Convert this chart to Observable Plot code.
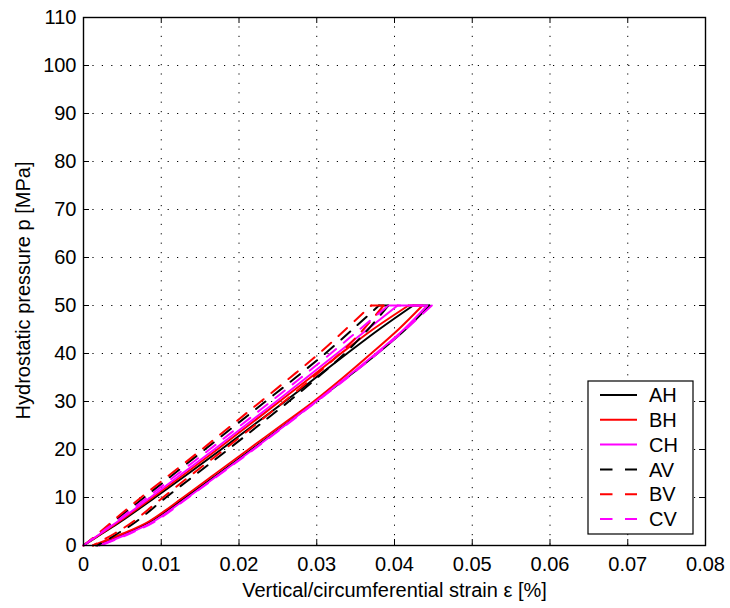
<!DOCTYPE html>
<html>
<head>
<meta charset="utf-8">
<script src="https://cdn.jsdelivr.net/npm/d3@7"></script>
<script src="https://cdn.jsdelivr.net/npm/@observablehq/plot@0.6"></script>
<style>
  body { margin: 0; background: #fff; }
  svg { display: block; }
</style>
</head>
<body>
<div id="chart"></div>
<script>
// ---- data (strain in %, at each pressure level in MPa) ----
const pressure = [0, 2.5, 5, 10, 15, 20, 25, 30, 35, 40, 45, 50];

const seriesNames = ["AH", "BH", "CH", "AV", "BV", "CV"];
const seriesColors = ["#000000", "#ff0000", "#ff00ff", "#000000", "#ff0000", "#ff00ff"];
const seriesDashed = [false, false, false, true, true, true];

// loading branch (pressure ascending)
const AH_load   = [0, 0.0024, 0.0048, 0.0092, 0.0135, 0.0177, 0.0218, 0.0259, 0.0299, 0.0339, 0.0380, 0.0424];
const BH_load   = [0, 0.0023, 0.0046, 0.0089, 0.0131, 0.0172, 0.0212, 0.0252, 0.0292, 0.0331, 0.0372, 0.0418];
const CH_load   = [0, 0.0022, 0.0044, 0.0086, 0.0127, 0.0168, 0.0208, 0.0248, 0.0287, 0.0326, 0.0365, 0.0404];
const AV_load   = [0, 0.0020, 0.0039, 0.0078, 0.0117, 0.0156, 0.0195, 0.0234, 0.0273, 0.0311, 0.0346, 0.0380];
const BV_load   = [0, 0.0019, 0.0037, 0.0074, 0.0113, 0.0152, 0.0190, 0.0228, 0.0266, 0.0303, 0.0337, 0.0370];
const CV_load   = [0, 0.0021, 0.0042, 0.0082, 0.0122, 0.0162, 0.0202, 0.0241, 0.0280, 0.0318, 0.0355, 0.0392];

// unloading branch (listed with pressure ascending)
const AH_unload = [0.0016, 0.0054, 0.0086, 0.0131, 0.0174, 0.0216, 0.0258, 0.0299, 0.0339, 0.0378, 0.0414, 0.0445];
const BH_unload = [0.0012, 0.0051, 0.0084, 0.0128, 0.0170, 0.0212, 0.0254, 0.0296, 0.0334, 0.0370, 0.0405, 0.0436];
const CH_unload = [0.0020, 0.0058, 0.0090, 0.0134, 0.0176, 0.0218, 0.0259, 0.0299, 0.0338, 0.0376, 0.0412, 0.0442];
const AV_unload = [0.0018, 0.0044, 0.0068, 0.0106, 0.0146, 0.0186, 0.0225, 0.0264, 0.0301, 0.0336, 0.0366, 0.0392];
const BV_unload = [0.0012, 0.0040, 0.0064, 0.0102, 0.0141, 0.0181, 0.0220, 0.0258, 0.0295, 0.0330, 0.0360, 0.0386];
const CV_unload = [0.0022, 0.0060, 0.0092, 0.0135, 0.0177, 0.0219, 0.0260, 0.0300, 0.0340, 0.0378, 0.0414, 0.0448];

const xTicks = [0, 0.01, 0.02, 0.03, 0.04, 0.05, 0.06, 0.07, 0.08];
const xTickLabels = ["0", "0.01", "0.02", "0.03", "0.04", "0.05", "0.06", "0.07", "0.08"];
const yTicks = [0, 10, 20, 30, 40, 50, 60, 70, 80, 90, 100, 110];
const yTickLabels = ["0", "10", "20", "30", "40", "50", "60", "70", "80", "90", "100", "110"];

const xLabel = "Vertical/circumferential strain \u03b5 [%]";
const yLabel = "Hydrostatic pressure p [MPa]";

// ---- build branch tables ----
const loads = {AH: AH_load, BH: BH_load, CH: CH_load, AV: AV_load, BV: BV_load, CV: CV_load};
const unloads = {AH: AH_unload, BH: BH_unload, CH: CH_unload, AV: AV_unload, BV: BV_unload, CV: CV_unload};

const branchRows = (arr) => pressure.map((p, i) => ({p, e: arr[i]}));
const holdRows = (name) => {
  const n = pressure.length - 1;
  return [{p: pressure[n], e: loads[name][n]}, {p: pressure[n], e: unloads[name][n]}];
};

// ---- layout ----
const W = 730, H = 608;
const mL = 83, mR = 25, mT = 17, mB = 63;
const frameW = W - mL - mR, frameH = H - mT - mB;
const tickLen = 6;
const font = "'Liberation Sans', Arial, Helvetica, sans-serif";

const lineMarks = seriesNames.flatMap((name, i) => {
  const opts = {
    x: "e", y: "p",
    stroke: seriesColors[i],
    strokeWidth: 2,
    strokeDasharray: seriesDashed[i] ? "12,10" : null,
    strokeLinejoin: "round"
  };
  return [
    Plot.line(branchRows(loads[name]), {...opts, curve: "catmull-rom"}),
    Plot.line(holdRows(name), {...opts, curve: "linear"}),
    Plot.line(branchRows(unloads[name]).reverse(), {...opts, curve: "catmull-rom"})
  ];
});

const svg = Plot.plot({
  width: W, height: H,
  marginLeft: mL, marginRight: mR, marginTop: mT, marginBottom: mB,
  style: {fontFamily: font, background: "#fff", color: "#000"},
  x: {domain: [0, 0.08], axis: null},
  y: {domain: [0, 110], axis: null},
  marks: [
    // dotted grid
    Plot.ruleX(xTicks.slice(1, -1), {stroke: "#000", strokeWidth: 1, strokeDasharray: "1.2,8.2"}),
    Plot.ruleY(yTicks.slice(1, -1), {stroke: "#000", strokeWidth: 1, strokeDasharray: "1.2,8.2"}),
    // inward tick marks on all four sides
    Plot.ruleX(xTicks, {stroke: "#000", strokeWidth: 1, insetTop: frameH - tickLen}),
    Plot.ruleX(xTicks, {stroke: "#000", strokeWidth: 1, insetBottom: frameH - tickLen}),
    Plot.ruleY(yTicks, {stroke: "#000", strokeWidth: 1, insetRight: frameW - tickLen}),
    Plot.ruleY(yTicks, {stroke: "#000", strokeWidth: 1, insetLeft: frameW - tickLen}),
    ...lineMarks,
    Plot.frame({stroke: "#000", strokeWidth: 1.4}),
    // tick labels
    Plot.text(xTicks, {x: d => d, text: (d, i) => xTickLabels[i], frameAnchor: "bottom",
      dy: 19, lineAnchor: "middle", fontSize: 20, fill: "#000"}),
    Plot.text(yTicks, {y: d => d, text: (d, i) => yTickLabels[i], frameAnchor: "left",
      dx: -7, textAnchor: "end", lineAnchor: "middle", fontSize: 20, fill: "#000"}),
    // axis titles
    Plot.text([xLabel], {text: d => d, frameAnchor: "bottom", dy: 45, textAnchor: "middle",
      lineAnchor: "middle", fontSize: 20, fill: "#000"}),
    Plot.text([yLabel], {text: d => d, frameAnchor: "left", dx: -60, dy: 9, rotate: -90,
      textAnchor: "middle", lineAnchor: "middle", fontSize: 20, fill: "#000"})
  ]
});

document.getElementById("chart").appendChild(svg);

// ---- legend (inside the plot, lower right) ----
const lg = d3.select(svg).append("g")
  .attr("font-family", font).attr("font-size", 20).attr("text-anchor", "start");
const lx = 588, ly = 381, lw = 105, lh = 153, rowH = 24.8, row0 = 395;
lg.append("rect").attr("x", lx).attr("y", ly).attr("width", lw).attr("height", lh)
  .attr("fill", "#fff").attr("stroke", "#000").attr("stroke-width", 1.2);
seriesNames.forEach((name, i) => {
  const y = row0 + i * rowH;
  lg.append("line").attr("x1", 600).attr("x2", 637).attr("y1", y).attr("y2", y)
    .attr("stroke", seriesColors[i]).attr("stroke-width", 2)
    .attr("stroke-dasharray", seriesDashed[i] ? "12.5,12.5" : null);
  lg.append("text").attr("x", 649).attr("y", y).attr("dy", "0.36em")
    .attr("text-anchor", "start").attr("fill", "#000").text(name);
});
</script>
</body>
</html>
